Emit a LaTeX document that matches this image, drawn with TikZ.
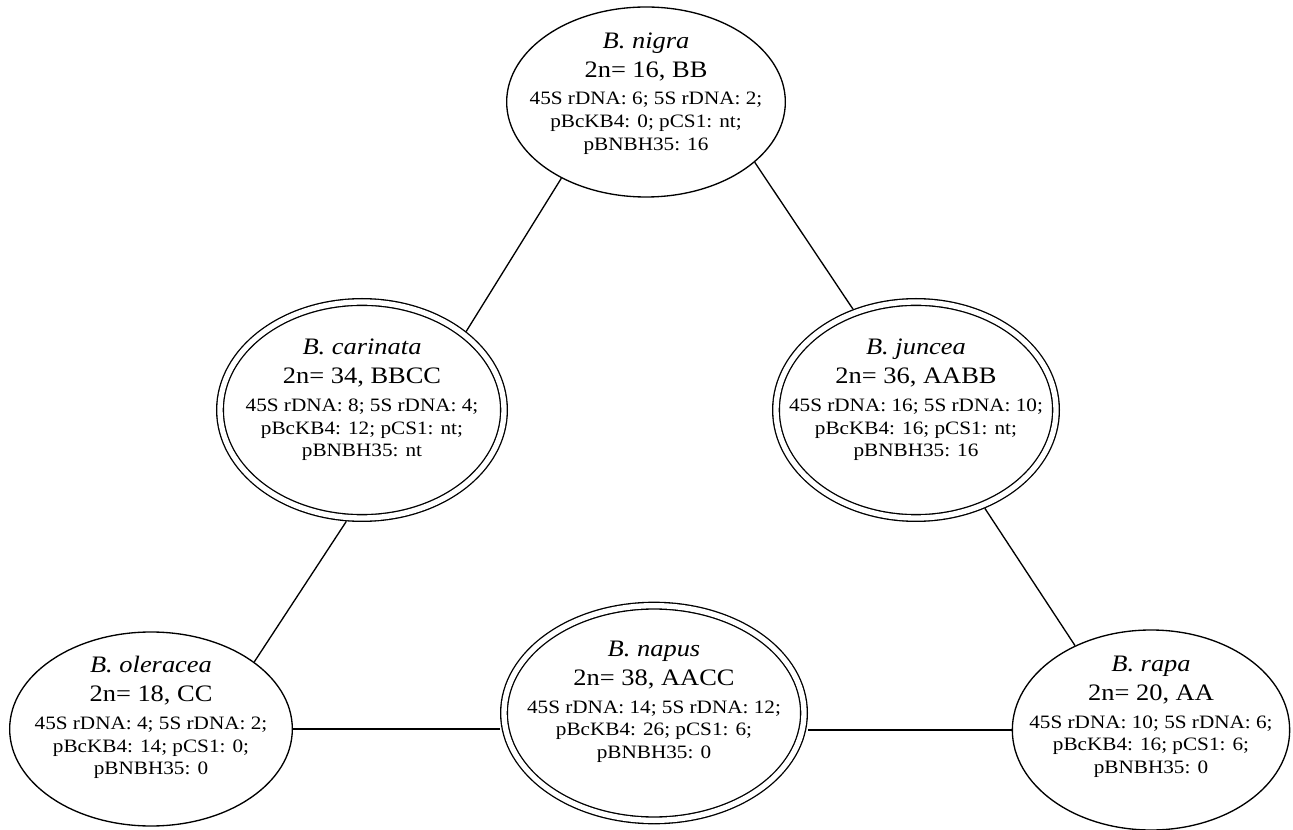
\documentclass[tikz,border=0pt]{standalone}
\usepackage{fontspec}
\setmainfont{Liberation Serif}[FakeStretch=1.12]
\usepackage{tikz}
\usetikzlibrary{shapes.geometric}

\newcommand{\headfont}{\fontsize{17.7}{17}\selectfont}

\begin{document}
\begin{tikzpicture}[x=0.75pt, y=-0.75pt,
	species/.style={ellipse, draw, line width=1pt, inner sep=-30pt, align=center,
		font=\fontsize{14.2}{17}\selectfont},
	hybrid/.style={species, double, double distance=4pt, outer sep=3pt},
	link/.style={line width=1pt}]

\useasboundingbox (0,0) rectangle (1293,830);

\node[species, minimum width=209pt, minimum height=142.5pt] (nigra) at (646,102)
	{{\headfont\textit{B. nigra}}\\[4.75pt] {\headfont 2n= 16, BB}\\[3.8pt]
	45S rDNA: 6; 5S rDNA: 2;\\ pBcKB4: 0; pCS1: nt;\\ pBNBH35: 16\\[-1pt]\mbox{}};

\node[hybrid, minimum width=213pt, minimum height=162pt] (carinata) at (362,410)
	{{\headfont\textit{B. carinata}}\\[4.75pt] {\headfont 2n= 34, BBCC}\\[3.8pt]
	45S rDNA: 8; 5S rDNA: 4;\\ pBcKB4: 12; pCS1: nt;\\ pBNBH35: nt\\[1pt]\mbox{}};

\node[hybrid, minimum width=210pt, minimum height=162pt] (juncea) at (916,410)
	{{\headfont\textit{B. juncea}}\\[4.75pt] {\headfont 2n= 36, AABB}\\[3.8pt]
	45S rDNA: 16; 5S rDNA: 10;\\ pBcKB4: 16; pCS1: nt;\\ pBNBH35: 16\\[1pt]\mbox{}};

\node[species, minimum width=212pt, minimum height=145.5pt] (oleracea) at (151,729)
	{{\headfont\textit{B. oleracea}}\\[4.75pt] {\headfont 2n= 18, CC}\\[3.8pt]
	45S rDNA: 4; 5S rDNA: 2;\\ pBcKB4: 14; pCS1: 0;\\ pBNBH35: 0\\[3pt]\mbox{}};

\node[hybrid, minimum width=225pt, minimum height=161pt] (napus) at (654,713)
	{{\headfont\textit{B. napus}}\\[4.75pt] {\headfont 2n= 38, AACC}\\[3.8pt]
	45S rDNA: 14; 5S rDNA: 12;\\ pBcKB4: 26; pCS1: 6;\\ pBNBH35: 0\\[3pt]\mbox{}};

\node[species, minimum width=208pt, minimum height=150pt] (rapa) at (1151,730)
	{{\headfont\textit{B. rapa}}\\[4.75pt] {\headfont 2n= 20, AA}\\[3.8pt]
	45S rDNA: 10; 5S rDNA: 6;\\ pBcKB4: 16; pCS1: 6;\\ pBNBH35: 0\\[6pt]\mbox{}};

\draw[link] (nigra.222) -- (carinata.37);
\draw[link] (nigra.331) -- (juncea.122);
\draw[link] (carinata.262) -- (oleracea.33);
\draw[link] (juncea.305) -- (rapa.132);
\draw[link] (oleracea.east) -- (oleracea.east -| napus.west);
\draw[link] (napus.east |- rapa.west) -- (rapa.west);

\end{tikzpicture}
\end{document}
